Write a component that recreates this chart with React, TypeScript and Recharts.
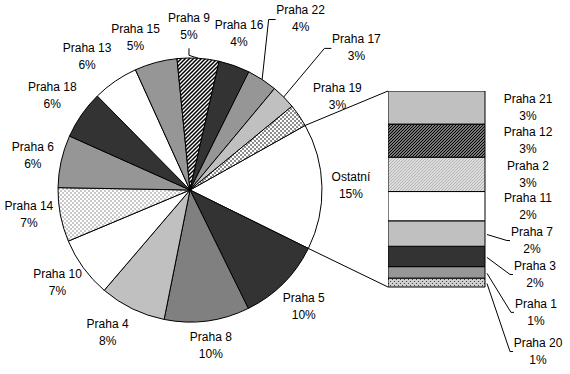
import React from 'react';
import { PieChart, Pie, Cell, BarChart, Bar, XAxis, YAxis } from 'recharts';

if (typeof document !== 'undefined') document.body.style.margin = '0';

// main pie, clockwise after "Ostatní"
const pieNames = ['Praha 5', 'Praha 8', 'Praha 4', 'Praha 10', 'Praha 14', 'Praha 6', 'Praha 18', 'Praha 13', 'Praha 15', 'Praha 9', 'Praha 16', 'Praha 22', 'Praha 17', 'Praha 19'];
const pieValues = [10.4, 10.4, 8.1, 7.4, 6.6, 6.4, 5.9, 5.6, 5.2, 5.1, 3.8, 3.7, 3.0, 2.8];

// the "Ostatní" bar, top to bottom
const otherLabel = 'Ostatní';
const otherNames = ['Praha 21', 'Praha 12', 'Praha 2', 'Praha 11', 'Praha 7', 'Praha 3', 'Praha 1', 'Praha 20'];
const otherValues = [2.6, 2.6, 2.7, 2.3, 2.0, 1.6, 0.9, 0.7];

const otherTotal = otherValues.reduce((a, b) => a + b, 0);
const grandTotal = pieValues.reduce((a, b) => a + b, 0) + otherTotal;

const pieData = [
  { name: otherLabel, value: otherTotal },
  ...pieNames.map((name, i) => ({ name, value: pieValues[i] })),
];
const barRow = [Object.fromEntries([['key', otherLabel], ...otherNames.map((n, i) => [n, otherValues[i]])])];

const fills: Record<string, string> = {
  'Ostatní': '#ffffff',
  'Praha 5': '#333333',
  'Praha 8': '#808080',
  'Praha 4': '#c0c0c0',
  'Praha 10': '#ffffff',
  'Praha 14': 'url(#checkLight)',
  'Praha 6': '#969696',
  'Praha 18': '#333333',
  'Praha 13': '#ffffff',
  'Praha 15': '#969696',
  'Praha 9': 'url(#hatch)',
  'Praha 16': '#333333',
  'Praha 22': '#969696',
  'Praha 17': '#c0c0c0',
  'Praha 19': 'url(#checkDark)',
  'Praha 21': '#c0c0c0',
  'Praha 12': 'url(#hatchDense)',
  'Praha 2': 'url(#hatchLight)',
  'Praha 11': '#ffffff',
  'Praha 7': '#c0c0c0',
  'Praha 3': '#333333',
  'Praha 1': '#969696',
  'Praha 20': 'url(#dots)',
};

// layout
const CX = 190;
const CY = 190;
const R = 132;
const START = otherTotal / grandTotal * 180 + 1.5;
const BAR_LEFT = 388;
const BAR_TOP = 91;
const BAR_W = 97;
const BAR_H = 196;
const FONT = '"Liberation Sans", Arial, sans-serif';
const RAD = Math.PI / 180;

const pieNudge: Record<string, [number, number]> = {
  'Praha 5': [0, 5],
  'Praha 4': [-12, 1],
  'Praha 14': [0, -5],
  'Praha 18': [-3, -5],
  'Praha 13': [-10, -4],
  'Praha 15': [-12, -1],
  'Praha 9': [-11, -7],
  'Praha 16': [-6, -9],
  'Praha 22': [21, -40],
  'Praha 17': [50, -32],
  'Praha 19': [12, -5],
};
const leaderBottom = ['Praha 9'];
const leaderLeft = ['Praha 22', 'Praha 17'];

const barNudge: Record<string, [number, number]> = {
  'Praha 7': [4, 7],
  'Praha 3': [7, 18],
  'Praha 1': [8, 40],
  'Praha 20': [10, 69],
};

const TwoLines = ({ x, y, a, b }: { x: number; y: number; a: string; b: string }) => (
  <g fontFamily={FONT} fontSize={12} fill="#000" textAnchor="middle">
    <text x={x} y={y - 8.5} dominantBaseline="central">{a}</text>
    <text x={x} y={y + 8.5} dominantBaseline="central">{b}</text>
  </g>
);

const renderPieLabel = (p: any) => {
  const { cx, cy, midAngle, outerRadius, name, percent } = p;
  const cos = Math.cos(-midAngle * RAD);
  const sin = Math.sin(-midAngle * RAD);
  const hw = name.length * 3;
  const [dx, dy] = pieNudge[name] || [0, 0];
  const lx = cx + (outerRadius + 8 + hw) * cos + dx;
  const ly = cy + (outerRadius + 8 + 17) * sin + dy;
  const ax = cx + outerRadius * cos;
  const ay = cy + outerRadius * sin;
  let leader = null;
  if (leaderBottom.includes(name)) {
    leader = <polyline points={`${lx},${ly + 22} ${lx},${ly + 29} ${ax},${ay}`} fill="none" stroke="#000" />;
  } else if (leaderLeft.includes(name)) {
    const left = lx - hw;
    leader = <polyline points={`${left - 1},${ly + 1} ${left - 8},${ly + 1} ${ax},${ay}`} fill="none" stroke="#000" />;
  }
  return (
    <g key={name}>
      {leader}
      <TwoLines x={lx} y={ly} a={name} b={`${Math.round(percent * 100)}%`} />
    </g>
  );
};

const renderBarLabel = (p: any, name: string, value: number) => {
  const { x, y, width, height } = p;
  const [dx, dy] = barNudge[name] || [0, 0];
  const lx = x + width + 43 + dx;
  const ly = y + height / 2 + dy;
  const left = lx - name.length * 3;
  return (
    <g>
      {barNudge[name] && (
        <polyline points={`${x + width + 2},${y + height / 2 + 1} ${left - 4},${ly} ${left - 1},${ly}`} fill="none" stroke="#000" />
      )}
      <TwoLines x={lx} y={ly} a={name} b={`${Math.round(value / grandTotal * 100)}%`} />
    </g>
  );
};

const Patterns = () => (
  <svg width={0} height={0} style={{ position: 'absolute' }}>
    <defs>
      <pattern id="checkLight" width={4} height={4} patternUnits="userSpaceOnUse">
        <rect width={4} height={4} fill="#c8c8c8" />
        <rect width={2} height={2} fill="#fff" />
        <rect x={2} y={2} width={2} height={2} fill="#fff" />
      </pattern>
      <pattern id="checkDark" width={4} height={4} patternUnits="userSpaceOnUse">
        <rect width={4} height={4} fill="#8c8c8c" />
        <rect width={2} height={2} fill="#fff" />
        <rect x={2} y={2} width={2} height={2} fill="#fff" />
      </pattern>
      <pattern id="hatch" width={4} height={4} patternUnits="userSpaceOnUse">
        <rect width={4} height={4} fill="#fff" />
        <path d="M-1,1 L1,-1 M0,4 L4,0 M3,5 L5,3" stroke="#000" strokeWidth={1.5} />
      </pattern>
      <pattern id="hatchDense" width={3} height={3} patternUnits="userSpaceOnUse">
        <rect width={3} height={3} fill="#fff" />
        <path d="M-1,1 L1,-1 M0,3 L3,0 M2,4 L4,2" stroke="#000" strokeWidth={1.5} />
      </pattern>
      <pattern id="hatchLight" width={3} height={3} patternUnits="userSpaceOnUse">
        <rect width={3} height={3} fill="#fff" />
        <path d="M-1,1 L1,-1 M0,3 L3,0 M2,4 L4,2" stroke="#b4b4b4" strokeWidth={1.3} />
      </pattern>
      <pattern id="dots" width={4} height={4} patternUnits="userSpaceOnUse">
        <rect width={4} height={4} fill="#d0d0d0" />
        <rect width={1} height={1} fill="#404040" />
        <rect x={2} y={2} width={1} height={1} fill="#404040" />
      </pattern>
    </defs>
  </svg>
);

export default function App() {
  const endOther = START - otherTotal / grandTotal * 360;
  const p1 = [CX + R * Math.cos(START * RAD), CY - R * Math.sin(START * RAD)];
  const p2 = [CX + R * Math.cos(endOther * RAD), CY - R * Math.sin(endOther * RAD)];
  const barStack = [...otherNames].reverse();

  return (
    <div style={{ position: 'relative', width: 570, height: 374, background: '#fff' }}>
      <Patterns />
      <div style={{ position: 'absolute', left: 0, top: 0 }}>
        <PieChart width={570} height={374} margin={{ top: 0, right: 0, bottom: 0, left: 0 }}>
          <Pie
            data={pieData}
            dataKey="value"
            nameKey="name"
            cx={CX}
            cy={CY}
            outerRadius={R}
            startAngle={START}
            endAngle={START - 360}
            stroke="#000"
            strokeWidth={1}
            label={renderPieLabel}
            labelLine={false}
            isAnimationActive={false}
          >
            {pieData.map((d) => (
              <Cell key={d.name} fill={fills[d.name]} />
            ))}
          </Pie>
        </PieChart>
      </div>
      <div style={{ position: 'absolute', left: BAR_LEFT, top: BAR_TOP }}>
        <BarChart
          width={570 - BAR_LEFT}
          height={374 - BAR_TOP}
          data={barRow}
          margin={{ top: 0, right: 570 - BAR_LEFT - BAR_W, bottom: 374 - BAR_TOP - BAR_H, left: 0 }}
          barCategoryGap={0}
        >
          <XAxis dataKey="key" hide />
          <YAxis hide domain={[0, otherTotal]} />
          {barStack.map((n) => (
            <Bar
              key={n}
              dataKey={n}
              stackId="o"
              fill={fills[n]}
              stroke="#000"
              strokeWidth={1}
              isAnimationActive={false}
              label={(p: any) => renderBarLabel(p, n, otherValues[otherNames.indexOf(n)])}
            />
          ))}
        </BarChart>
      </div>
      <svg width={570} height={374} style={{ position: 'absolute', left: 0, top: 0, pointerEvents: 'none' }}>
        <line x1={p1[0]} y1={p1[1]} x2={BAR_LEFT} y2={BAR_TOP} stroke="#000" />
        <line x1={p2[0]} y1={p2[1]} x2={BAR_LEFT} y2={BAR_TOP + BAR_H} stroke="#000" />
      </svg>
    </div>
  );
}
